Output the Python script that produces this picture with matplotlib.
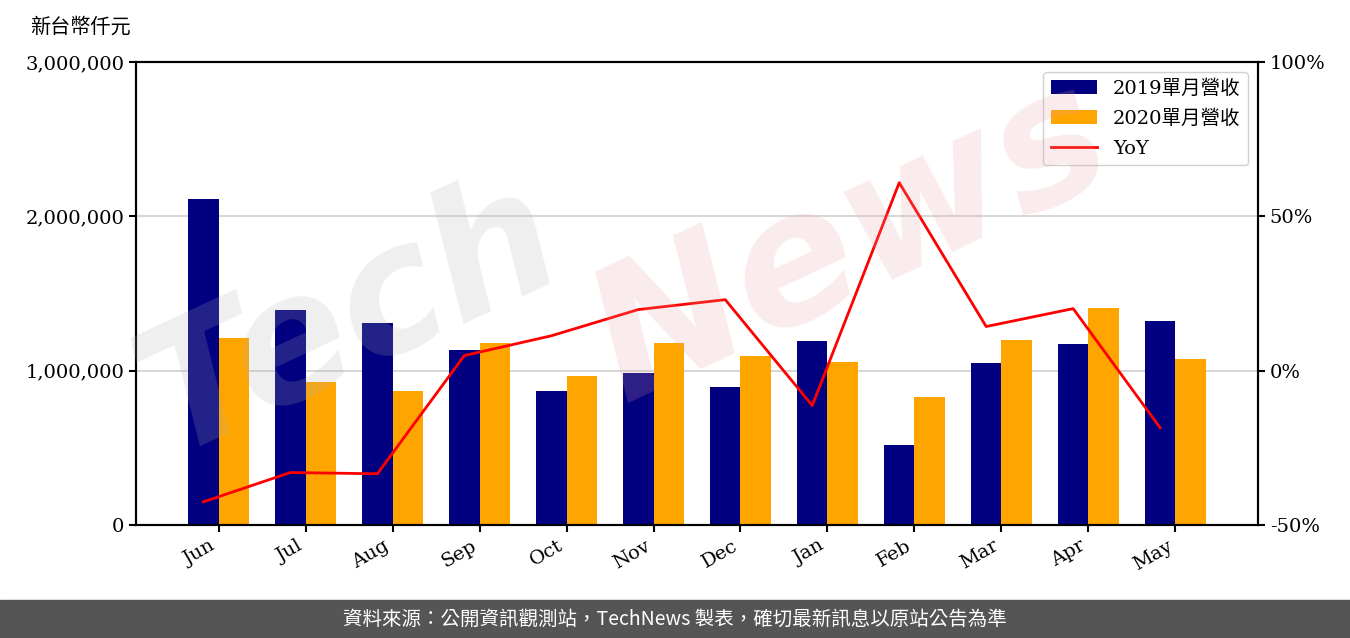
import numpy as np
import matplotlib
matplotlib.use("Agg")
import matplotlib.pyplot as plt
from matplotlib.ticker import FuncFormatter

plt.rcParams['font.family'] = ['DejaVu Serif', 'Noto Sans CJK TC']

# data
months = ["Jun", "Jul", "Aug", "Sep", "Oct", "Nov", "Dec", "Jan", "Feb", "Mar", "Apr", "May"]
rev_2019 = [2112000, 1393000, 1309000, 1134000, 868000, 985000, 894000, 1192000, 518000, 1050000, 1173000, 1322000]
rev_2020 = [1212000, 927000, 868000, 1179000, 965000, 1179000, 1095000, 1056000, 829000, 1199000, 1406000, 1076000]
yoy = [-42.5, -33.0, -33.4, 4.9, 11.3, 19.8, 23.0, -11.3, 60.9, 14.3, 20.1, -18.5]

fig = plt.figure(figsize=(13.5, 6.38), dpi=100)
ax = fig.add_axes([136 / 1350, 1 - 525 / 638, 1122 / 1350, 463 / 638])
ax2 = ax.twinx()

x = np.arange(len(months))
w = 0.35
ax.bar(x - w / 2, rev_2019, w, color="#000080", label="2019單月營收", zorder=2)
ax.bar(x + w / 2, rev_2020, w, color="#FFA500", label="2020單月營收", zorder=2)
ax2.plot(x - w / 2, yoy, color="red", lw=2, label="YoY", zorder=3)

ax.set_xlim(-0.95, 11.95)
ax.set_ylim(0, 3000000)
ax.set_yticks([0, 1000000, 2000000, 3000000])
ax.yaxis.set_major_formatter(FuncFormatter(lambda v, p: f"{int(v):,}"))
ax.grid(axis="y", color="#d0d0d0", lw=1.2, zorder=0)
ax.set_axisbelow(True)
ax.set_xticks(x)
ax.set_xticklabels(months, rotation=30, ha="right")
ax.tick_params(labelsize=14, width=1.5, length=5)

ax2.set_ylim(-50, 100)
ax2.set_yticks([-50, 0, 50, 100])
ax2.yaxis.set_major_formatter(FuncFormatter(lambda v, p: f"{int(v)}%"))
ax2.tick_params(labelsize=14, width=1.5, length=5)
for a in (ax, ax2):
    for s in a.spines.values():
        s.set_linewidth(1.5)

h1, l1 = ax.get_legend_handles_labels()
h2, l2 = ax2.get_legend_handles_labels()
ax2.legend(h1 + h2, l1 + l2, loc="upper right", fontsize=14, labelspacing=0.6,
           framealpha=1, edgecolor="#d0d0d0", borderpad=0.4, handlelength=2.4)

fig.text(30 / 1350, 1 - 27 / 638, "新台幣仟元", fontsize=14.5, va="center", ha="left",
         family=["Noto Sans CJK TC"])

# watermark
fig.text(0.26, 0.50, "Tech", fontsize=125, fontweight="bold", color="#b0b0b0",
         alpha=0.2, rotation=25, ha="center", va="center", zorder=10,
         family="DejaVu Sans", style="italic")
fig.text(0.63, 0.62, "News", fontsize=130, fontweight="bold", color="#e8a0a0",
         alpha=0.2, rotation=25, ha="center", va="center", zorder=10,
         family="DejaVu Sans", style="italic")

# footer band
fig.patches.append(plt.Rectangle((0, 0), 1, 38 / 638, transform=fig.transFigure,
                                 color="#555555", zorder=0))
fig.text(0.5, 19 / 638, "資料來源：公開資訊觀測站，TechNews 製表，確切最新訊息以原站公告為準",
         color="white", fontsize=14, ha="center", va="center",
         family=["Noto Sans CJK TC", "DejaVu Sans"])

fig.savefig("out.png", dpi=100)
